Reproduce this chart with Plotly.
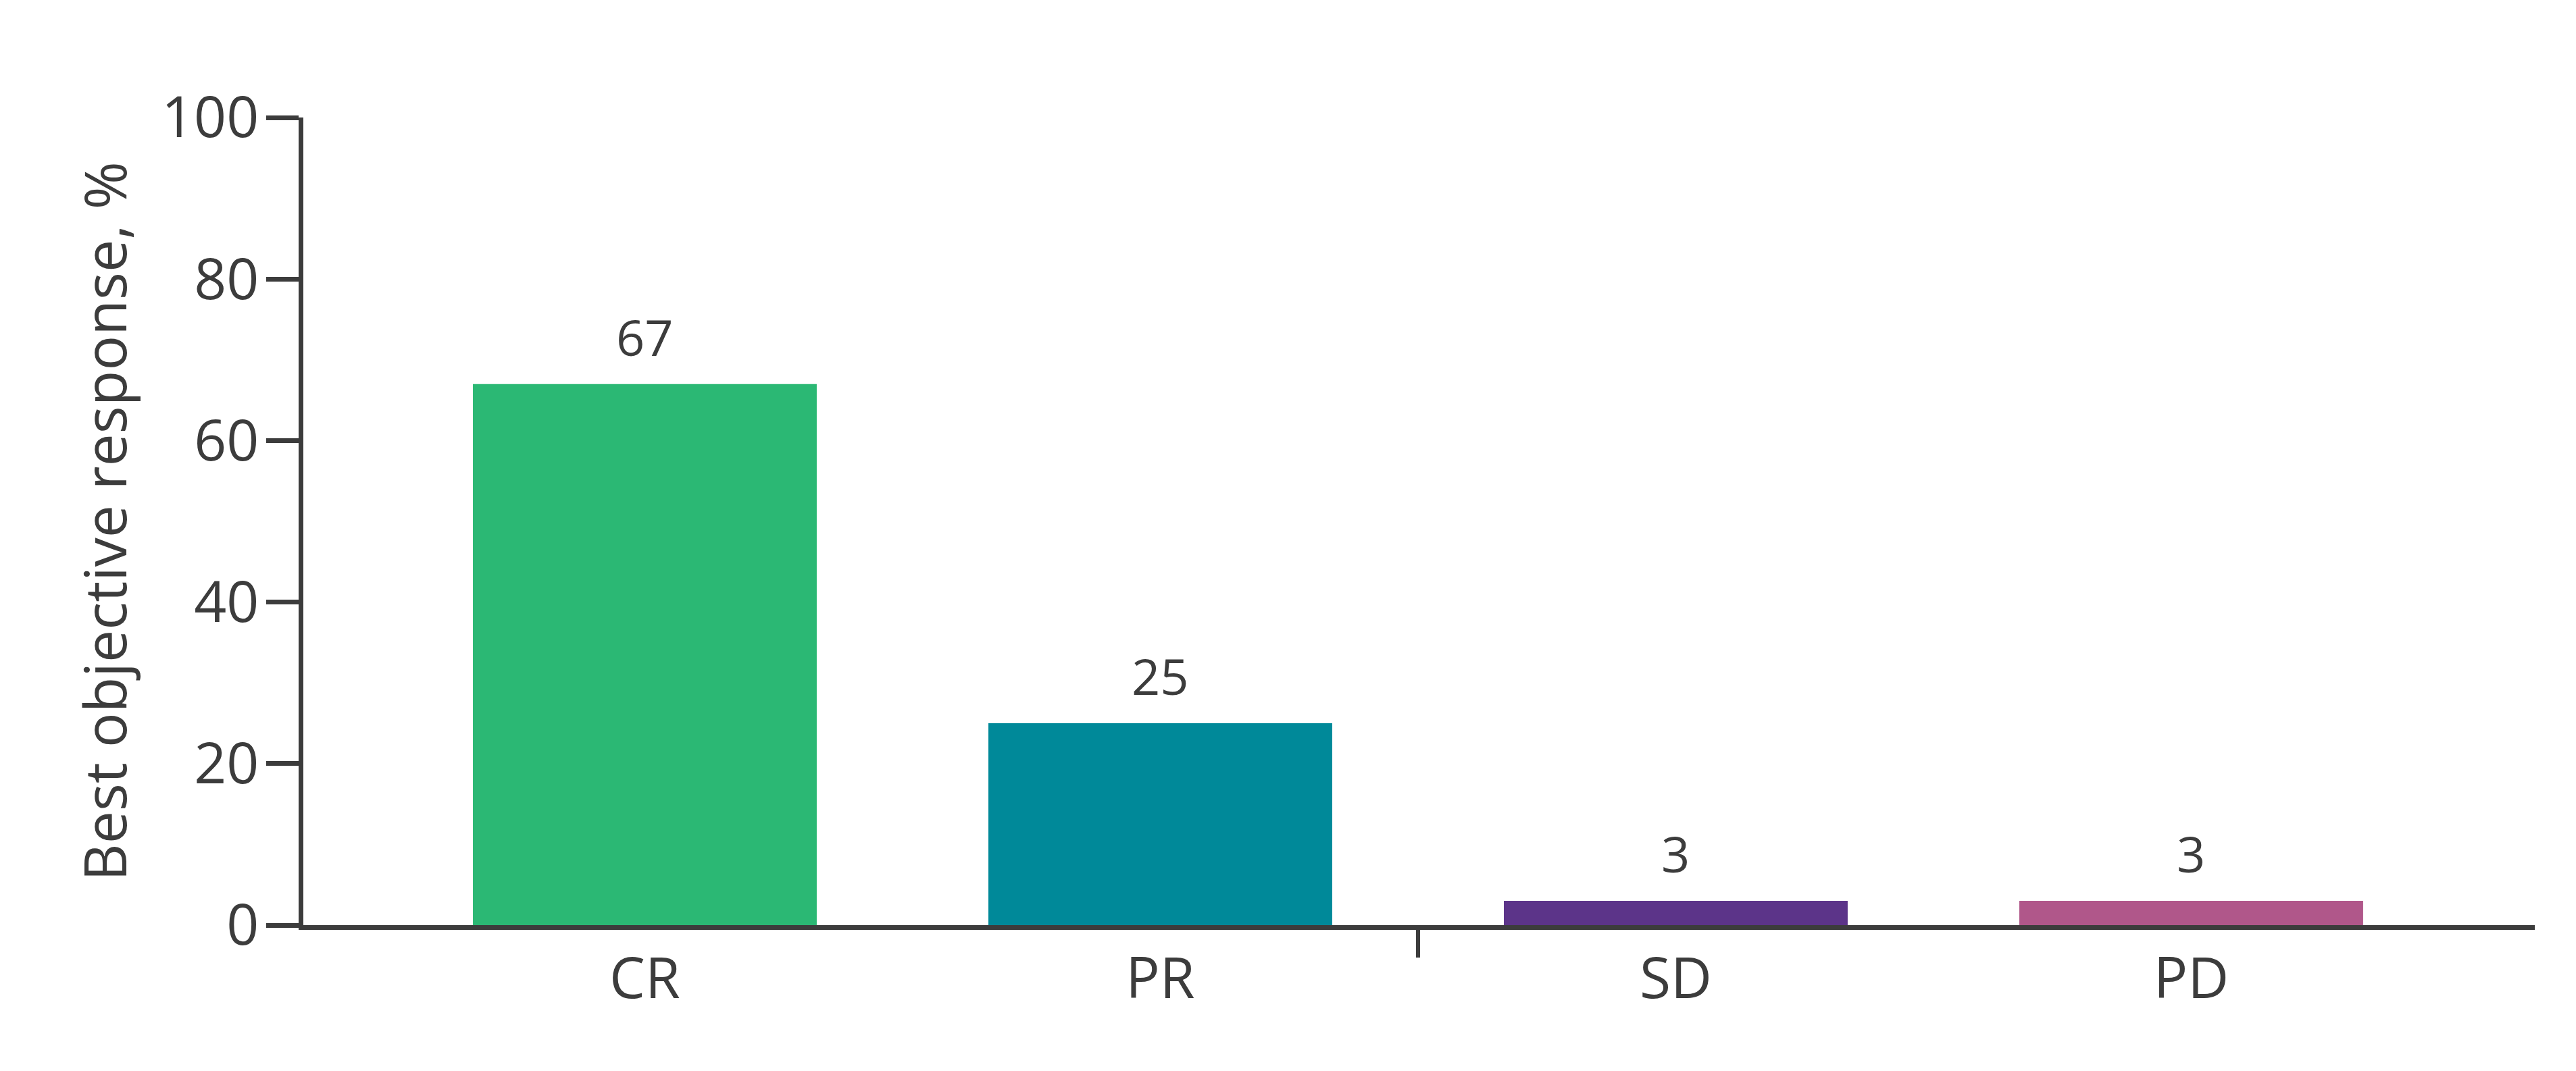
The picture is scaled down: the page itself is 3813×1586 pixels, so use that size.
import plotly.graph_objects as go

categories = ["CR", "PR", "SD", "PD"]
values = [67, 25, 3, 3]
colors = ["#2BB874", "#008999", "#5C3489", "#B0578A"]
y_ticks = [0, 20, 40, 60, 80, 100]
divider_ticks = [1.5]

TEXT = "#3C3C3C"
FONT = "Open Sans"

fig = go.Figure()
fig.add_trace(go.Bar(
    x=categories, y=values, marker=dict(color=colors, line=dict(width=0)),
    showlegend=False, hoverinfo="skip",
))
# invisible trace on the overlay axis so it is rendered
fig.add_trace(go.Scatter(x=[-0.66, 3.66], y=[0, 0], xaxis="x2", mode="markers",
                         marker=dict(opacity=0), showlegend=False, hoverinfo="skip"))

for c, v in zip(categories, values):
    fig.add_annotation(x=c, y=v, text=str(v), showarrow=False, yanchor="bottom",
                       yshift=18, font=dict(family=FONT, size=74, color=TEXT))

fig.update_layout(
    width=3797, height=1570,
    margin=dict(l=441, r=53, t=166, b=208),
    paper_bgcolor="white", plot_bgcolor="white",
    bargap=0.333,
    font=dict(family=FONT, color=TEXT),
    xaxis=dict(
        range=[-0.6625, 3.6665], showgrid=False, zeroline=False,
        showline=True, linewidth=7, linecolor=TEXT,
        ticks="", tickfont=dict(family=FONT, size=84, color=TEXT),
        ticklabelstandoff=0,
    ),
    xaxis2=dict(
        range=[-0.6625, 3.6665], overlaying="x", anchor="y", side="bottom",
        tickmode="array", tickvals=divider_ticks, ticks="outside", ticklen=47,
        tickwidth=6, tickcolor=TEXT, showticklabels=False, showgrid=False,
        zeroline=False, showline=False,
    ),
    yaxis=dict(
        range=[0, 100], tickmode="array", tickvals=y_ticks,
        showgrid=False, zeroline=False, showline=True, linewidth=7, linecolor=TEXT,
        ticks="outside", ticklen=48, tickwidth=7, tickcolor=TEXT,
        tickfont=dict(family=FONT, size=84, color=TEXT),
        ticklabelstandoff=-6,
        title=dict(text="Best objective response, %", standoff=26,
                   font=dict(family=FONT, size=86, color=TEXT)),
    ),
)

fig.write_html("out.html")
